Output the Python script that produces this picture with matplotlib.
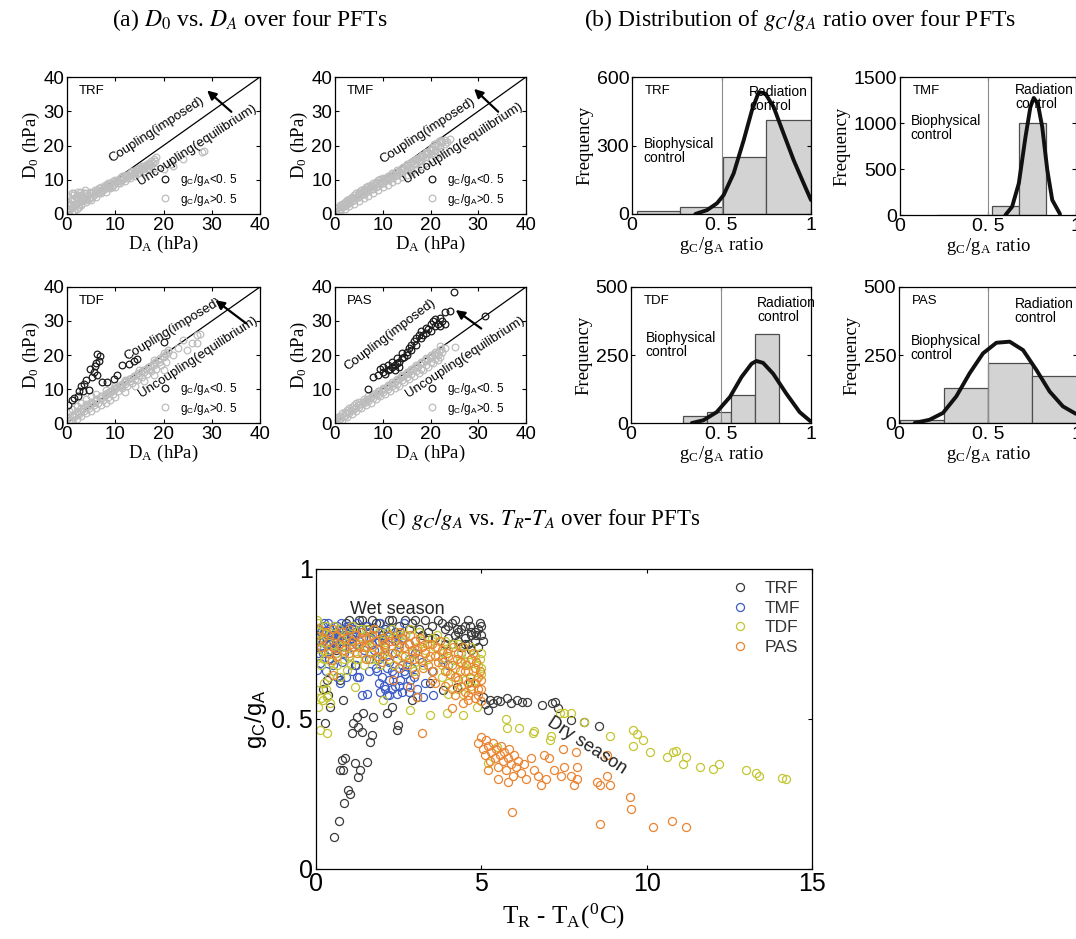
import matplotlib
matplotlib.use('Agg')
import numpy as np
import matplotlib.pyplot as plt

plt.rcParams['font.family'] = 'Liberation Sans'
plt.rcParams['mathtext.fontset'] = 'stix'
SERIF = 'Liberation Serif'

# ---------------- (a) D0 vs DA : (DA, D0) pairs
# hi = gC/gA > 0.5 (gray), lo = gC/gA < 0.5 (black)
trf_hi = [(0.2, 1.5), (0.5, 2.5), (0.8, 3.0), (1.0, 4.5), (1.2, 5.5), (1.5, 6.0), (1.8, 5.0), (2.0, 5.5),
          (2.3, 4.5), (2.6, 5.0), (3.0, 5.5), (3.3, 5.0), (3.6, 6.0), (4.0, 6.0), (4.3, 5.5), (4.7, 6.5),
          (5.0, 6.0), (5.4, 6.5), (5.8, 7.0), (6.2, 7.0), (6.6, 7.5), (7.0, 8.0), (7.4, 7.5), (7.8, 8.5),
          (8.2, 8.5), (8.6, 9.0), (9.0, 9.0), (9.5, 9.5), (10.0, 10.0), (10.5, 10.0), (11.0, 10.5),
          (11.5, 11.0), (12.0, 11.5), (12.5, 11.5), (13.0, 12.0), (13.5, 12.5), (14.0, 12.5), (14.5, 13.0),
          (15.0, 13.5), (15.5, 14.0), (16.0, 14.0), (16.5, 14.5), (17.0, 15.0), (17.5, 15.5), (18.0, 16.0),
          (1.0, 0.5), (1.5, 1.0), (2.0, 1.5), (2.5, 2.0), (3.0, 2.5), (4.0, 3.5), (5.0, 4.0), (6.0, 5.0),
          (7.0, 6.0), (8.0, 6.5), (9.0, 7.5), (10.0, 8.0), (11.0, 9.0), (12.0, 9.5), (13.0, 10.5),
          (14.0, 11.0), (15.0, 12.0), (16.0, 12.5), (17.0, 13.0), (18.0, 13.5), (0.5, 1.0), (1.5, 2.5),
          (2.5, 3.5), (3.5, 4.0), (4.5, 4.5), (5.5, 5.5), (6.5, 6.0), (7.5, 7.0), (8.5, 8.0), (9.5, 8.5),
          (10.5, 9.0), (11.5, 10.0), (12.5, 10.5), (13.5, 11.5), (14.5, 12.0), (15.5, 13.0), (16.5, 13.5),
          (17.5, 14.0), (20.0, 13.0), (21.5, 14.5), (22.0, 14.0), (24.0, 16.0), (28.0, 18.0), (28.3, 18.5),
          (1.0, 6.0), (2.2, 6.5), (0.3, 3.5),
          (0.3, 0.5), (0.7, 1.5), (1.3, 2.0), (1.8, 3.0), (2.2, 2.5), (2.8, 3.0), (3.2, 4.0), (3.8, 4.5),
          (4.2, 4.0), (4.8, 5.0), (5.2, 5.0), (5.8, 6.0), (6.3, 6.5), (6.8, 6.5), (7.3, 7.0), (7.8, 7.5),
          (8.3, 7.5), (8.8, 8.5), (9.3, 8.0), (9.8, 9.0), (10.3, 9.5), (10.8, 9.5), (11.3, 10.5), (11.8, 10.5),
          (12.3, 11.0), (12.8, 11.0), (13.3, 12.0), (13.8, 12.0), (14.3, 12.5), (14.8, 13.0), (15.3, 13.5),
          (15.8, 13.0), (16.3, 14.0), (16.8, 14.5), (17.3, 14.5), (17.8, 15.0), (18.2, 15.5), (0.8, 4.0),
          (1.5, 4.5), (2.8, 6.5), (3.8, 7.0), (18.5, 16.5)]
trf_lo = []

tmf_hi = [(0.5, 1.8), (1, 2.5), (1.5, 3), (2, 3.5), (2.5, 4), (3, 4.5), (3.5, 5), (4, 5.5), (4.5, 6), (5, 6.5),
          (5.5, 7), (6, 7.3), (6.5, 7.8), (7, 8.2), (7.5, 8.6), (8, 9), (8.5, 9.4), (9, 9.8), (9.5, 10.2),
          (10, 10.5), (11, 11.2), (12, 12), (13, 12.8), (14, 13.5), (15, 14.5), (16, 15.2), (17, 16), (18, 17),
          (19, 18), (20, 19), (21, 20), (22, 21), (23, 21.5), (24, 21.8),
          (0.3, 0.8), (1, 1.5), (2, 2.4), (3, 3.3), (4, 4.2), (5, 5), (6, 5.8), (7, 6.6), (8, 7.4), (9, 8.2),
          (10, 9), (11, 9.8), (12, 10.5), (13, 11.3), (14, 12), (15, 12.8), (16, 13.5), (17, 14.5), (18, 15.5),
          (19, 16.5), (20, 17.5), (21, 18.5), (22, 19.5), (23, 20.5),
          (1, 0.8), (2, 1.5), (3, 2.3), (4, 3), (5, 3.8), (6, 4.6), (7, 5.4), (8, 6.2), (9, 7), (10, 7.8),
          (11, 8.5), (12, 9.3), (13, 10), (14, 10.8), (15, 11.5), (16, 12.3), (17, 13), (18, 14), (19, 15),
          (20, 16), (21, 17), (22, 18.5),
          (1.5, 2.0), (2.5, 3.0), (3.5, 3.8), (4.5, 4.8), (5.5, 5.6), (6.5, 6.5), (7.5, 7.2), (8.5, 8.0),
          (9.5, 8.8), (10.5, 9.6), (11.5, 10.4), (12.5, 11.2), (13.5, 12.0), (14.5, 13.0), (15.5, 13.8),
          (16.5, 14.8), (17.5, 15.8), (18.5, 16.8), (19.5, 17.8), (20.5, 19.0), (21.5, 20.0), (22.5, 21.0),
          (0.8, 1.2), (1.3, 2.2), (1.8, 2.8), (2.3, 3.2), (2.8, 3.8), (3.3, 4.3), (3.8, 4.6), (4.3, 5.0),
          (4.8, 5.5), (5.3, 6.0), (5.8, 6.4), (6.3, 7.0), (6.8, 7.2), (7.3, 7.8), (7.8, 8.1), (8.3, 8.6),
          (8.8, 9.0), (9.3, 9.4), (9.8, 9.7), (10.3, 10.1), (10.8, 10.6), (11.3, 11.0), (11.8, 11.4),
          (12.3, 11.8), (12.8, 12.2), (13.3, 12.6), (13.8, 13.2), (14.3, 13.6), (14.8, 14.0), (15.3, 14.4),
          (15.8, 14.8), (16.3, 15.4), (16.8, 15.8), (17.3, 16.3), (17.8, 16.6), (18.3, 17.2), (18.8, 17.6),
          (19.3, 18.2), (19.8, 18.6), (20.3, 19.5), (20.8, 20.3), (21.3, 20.8), (21.8, 21.3), (22.3, 21.6),
          (23.5, 21.0)]
tmf_lo = []

tdf_hi = [(0.3, 1.5), (1, 2.5), (2, 3.5), (3, 4.5), (4, 5.5), (5, 6.3), (6, 7), (7, 7.8), (8, 8.5), (9, 9.3),
          (10, 10), (11, 10.8), (12, 11.5), (13, 12.3), (14, 13), (15, 14), (16, 15), (17, 16), (18, 17),
          (19, 18), (20, 19.5), (21, 21),
          (0.5, 0.8), (1.5, 1.8), (2.5, 2.6), (3.5, 3.5), (4.5, 4.3), (5.5, 5.2), (6.5, 6), (7.5, 6.8),
          (8.5, 7.7), (9.5, 8.5), (10.5, 9.3), (11.5, 10.2), (12.5, 11), (13.5, 11.8), (14.5, 12.7),
          (15.5, 13.5), (16.5, 14.3), (17.5, 15.2), (18.5, 16), (19.5, 17), (20.5, 18),
          (1, 0.5), (2, 1.2), (3, 2), (4, 2.8), (5, 3.6), (6, 4.4), (7, 5.2), (8, 6), (9, 6.8), (10, 7.6),
          (12, 9.2), (14, 10.8), (16, 12.4), (18, 14), (20, 15.5),
          (0.5, 3.5), (1, 4), (2, 5), (3, 6), (4, 7), (5, 8), (6, 8.5), (8, 9.8), (10, 11.2), (12, 12.7),
          (15, 15.5), (18, 18.5), (20, 20.5), (21, 21.5),
          (22, 20), (23, 22), (24, 24.5), (24.8, 21.5), (26, 23.5), (26.9, 23.4), (27, 26), (27.6, 26.3),
          (0.8, 1.0), (1.3, 2.0), (1.8, 2.5), (2.3, 3.0), (2.8, 3.5), (3.3, 4.2), (3.8, 4.6), (4.3, 5.0),
          (4.8, 5.6), (5.3, 6.0), (5.8, 6.5), (6.3, 7.0), (6.8, 7.4), (7.3, 8.0), (7.8, 8.3), (8.3, 8.8),
          (8.8, 9.2), (9.3, 9.8), (9.8, 10.2), (10.3, 10.6), (10.8, 11.0), (11.3, 11.5), (11.8, 12.0),
          (12.3, 12.4), (12.8, 12.8), (13.3, 13.3), (13.8, 13.8), (14.3, 14.2), (14.8, 14.7), (15.3, 15.1),
          (15.8, 15.5), (16.3, 16.0), (16.8, 16.4), (17.3, 16.8), (17.8, 17.3), (18.3, 17.8), (18.8, 18.5),
          (19.3, 19.0), (19.8, 19.6), (20.5, 20.4)]
tdf_lo = [(0.3, 5.4), (1, 6.8), (2.2, 8), (3.4, 9.3), (4.5, 9.8), (2.8, 11), (4, 12.5), (5.2, 13.5),
          (6.2, 14.1), (4.8, 15.9), (5.9, 16.9), (6.6, 18.3), (6.3, 20.3), (6.9, 19.8), (1.5, 7.5),
          (2.5, 9.5), (3.5, 11.5), (5.5, 15), (6, 17.5), (7.2, 12), (8.3, 12), (9.7, 13), (10.3, 14),
          (11.4, 17), (12.8, 17.4), (13.8, 18.3), (14.5, 18.8), (20, 23.9)]

pas_hi = [(0.3, 1.0), (0.6, 1.8), (1, 2.2), (1.5, 2.8), (2, 3.2), (2.5, 3.8), (3, 4.3), (3.5, 4.8), (4, 5.2),
          (4.5, 5.8), (5, 6.2), (6, 7.0), (7, 7.8), (8, 8.6), (9, 9.5), (10, 10.3), (11, 11.2), (12, 12.0),
          (13, 13.0), (14, 14.0), (15, 15.0), (16, 16.0), (17, 17.0), (18, 18.0), (19, 19.0), (20, 20.0),
          (21, 21.0), (22, 22.5), (23, 22.0),
          (1, 1.2), (2, 2.2), (3, 3.0), (4, 4.0), (5, 4.8), (6, 5.8), (7, 6.6), (8, 7.4), (9, 8.3), (10, 9.0),
          (11, 10.0), (12, 10.8), (13, 11.6), (14, 12.5), (15, 13.4), (16, 14.3), (17, 15.2), (18, 16.0),
          (19, 17.0), (20, 17.8), (21, 18.8), (22, 19.5),
          (1.5, 1.0), (2.5, 1.8), (3.5, 2.6), (4.5, 3.4), (5.5, 4.4), (6.5, 5.2), (7.5, 6.0), (8.5, 7.0),
          (9.5, 7.8), (10.5, 8.6), (11.5, 9.5), (12.5, 10.2), (13.5, 11.0), (14.5, 12.0), (15.5, 12.8),
          (16.5, 13.8), (17.5, 14.6), (18.5, 15.5), (19.5, 16.5), (20.5, 17.5), (21.5, 18.5),
          (25.2, 22.4), (22.5, 21.0), (21.5, 20.0),
          (0.8, 0.8), (1.3, 1.8), (1.8, 2.0), (2.3, 2.8), (2.8, 3.2), (3.3, 3.8), (3.8, 4.2), (4.3, 4.6),
          (4.8, 5.2), (5.3, 5.6), (5.8, 6.2), (6.3, 6.6), (6.8, 7.2), (7.3, 7.4), (7.8, 8.0), (8.3, 8.4),
          (8.8, 8.9), (9.3, 9.3), (9.8, 9.7), (10.3, 10.0), (10.8, 10.6), (11.3, 11.0), (11.8, 11.4),
          (12.3, 11.8), (12.8, 12.4), (13.3, 12.8), (13.8, 13.4), (14.3, 13.8), (14.8, 14.4), (15.3, 14.8),
          (15.8, 15.4), (16.3, 15.8), (16.8, 16.4), (17.3, 16.8), (17.8, 17.4), (18.3, 17.8), (18.8, 18.4),
          (19.3, 18.8), (19.8, 19.2), (20.3, 19.6), (20.8, 20.2), (21.3, 20.6), (21.8, 21.2), (22.3, 21.7)]
pas_lo = [(7, 10), (8, 13.5), (9, 14), (9.5, 16), (10, 16.5), (10, 15), (10.5, 14.5), (11, 15.5), (11, 17),
          (11.5, 16), (12, 16.5), (12, 18), (12.5, 17), (12.5, 15.5), (13, 17.5), (13, 19), (13.5, 18),
          (13.5, 16.5), (14, 19), (14, 20.5), (14.5, 19.5), (15, 21), (15, 20), (15.5, 22), (16, 21.5),
          (16, 23), (16.5, 24), (17, 25), (17, 23), (17.5, 26), (18, 25), (18, 27), (18.5, 26), (19, 28),
          (19, 26.5), (19.5, 27.5), (20, 29), (20, 27), (20.5, 30), (21, 28.5), (21, 30.5), (21.5, 29),
          (22, 31), (22, 28.5), (22.5, 30), (23, 32.5), (23, 29), (24, 33), (25, 38.5), (31.5, 31.5)]

# ---------------- (b) histograms of gC/gA
trf_edges = [0.03, 0.27, 0.51, 0.75, 1.0]
trf_counts = [12, 32, 250, 410]
trf_fit_x = [0.354, 0.419, 0.475, 0.512, 0.568, 0.624, 0.670, 0.708, 0.745, 0.791, 0.847, 0.903, 0.959, 1.0]
trf_fit_y = [0, 17, 47, 83, 178, 323, 454, 534, 527, 469, 352, 236, 134, 61]

tmf_edges = [0.21, 0.365, 0.52, 0.675, 0.83]
tmf_counts = [3, 0, 98, 1000]
tmf_fit_x = [0.599, 0.637, 0.675, 0.713, 0.741, 0.760, 0.783, 0.808, 0.837, 0.865, 0.909]
tmf_fit_y = [0, 90, 343, 849, 1175, 1272, 1211, 958, 488, 163, 11]

tdf_edges = [0.288, 0.421, 0.555, 0.688, 0.821]
tdf_counts = [25, 42, 104, 326]
tdf_fit_x = [0.338, 0.402, 0.476, 0.550, 0.614, 0.670, 0.697, 0.734, 0.790, 0.863, 0.937, 0.996]
tdf_fit_y = [0, 10, 40, 96, 169, 218, 228, 221, 181, 108, 40, 7]

pas_edges = [0.004, 0.25, 0.5, 0.749, 1.0]
pas_counts = [12, 128, 222, 174]
pas_fit_x = [0.088, 0.172, 0.247, 0.322, 0.397, 0.472, 0.547, 0.622, 0.697, 0.772, 0.846, 0.921, 0.993]
pas_fit_y = [0, 12, 37, 98, 183, 256, 295, 299, 268, 195, 116, 61, 34]

# ---------------- (c) gC/gA vs TR-TA : (TR-TA, gC/gA) pairs
c_trf = [(0.9, 0.82), (1.1, 0.80), (1.3, 0.83), (1.5, 0.81), (1.7, 0.83), (1.9, 0.82), (2.1, 0.80), (2.3, 0.83),
         (2.5, 0.81), (2.7, 0.83), (2.9, 0.82), (3.1, 0.80), (3.3, 0.83), (3.5, 0.81), (3.7, 0.83), (3.9, 0.80),
         (4.1, 0.82), (4.3, 0.79), (4.5, 0.81), (4.7, 0.78), (4.9, 0.80), (2.0, 0.78), (2.6, 0.77), (3.2, 0.78),
         (3.6, 0.77), (4.0, 0.77), (4.1, 0.75), (4.2, 0.78), (4.3, 0.76), (4.4, 0.74), (4.5, 0.77), (4.6, 0.75),
         (4.7, 0.79), (4.8, 0.76), (4.9, 0.74), (5.0, 0.78), (5.05, 0.76), (4.25, 0.80), (4.65, 0.81),
         (4.95, 0.82), (0.5, 0.78), (0.7, 0.80), (0.6, 0.73), (0.4, 0.70), (0.73, 0.63), (1.18, 0.68),
         (0.32, 0.63), (0.83, 0.563), (0.42, 0.541), (0.27, 0.486), (1.13, 0.486), (1.23, 0.508), (1.43, 0.519),
         (1.38, 0.458), (1.08, 0.452), (1.28, 0.474), (1.68, 0.447), (1.63, 0.424), (1.73, 0.508), (2.14, 0.519),
         (2.29, 0.541), (2.44, 0.463), (2.49, 0.48), (2.89, 0.563), (3.04, 0.574), (3.45, 0.619), (3.85, 0.597),
         (4.25, 0.608), (4.66, 0.624), (5.06, 0.574), (5.26, 0.563), (5.36, 0.552), (5.46, 0.563), (5.77, 0.569),
         (6.07, 0.563), (6.22, 0.558), (6.37, 0.558), (6.82, 0.547), (7.13, 0.552), (7.23, 0.557), (7.33, 0.537),
         (7.72, 0.497), (8.1, 0.49), (8.57, 0.476), (5.56, 0.56), (5.9, 0.555), (5.1, 0.55), (5.2, 0.53),
         (0.78, 0.363), (0.88, 0.369), (0.73, 0.33), (0.83, 0.33), (1.18, 0.352), (1.33, 0.33), (1.28, 0.308),
         (0.98, 0.263), (1.53, 0.358), (0.54, 0.107), (0.69, 0.16), (0.85, 0.22), (1.03, 0.25), (0.2, 0.6),
         (0.35, 0.58),
         (1.0, 0.83), (1.2, 0.79), (1.4, 0.83), (1.6, 0.80), (1.8, 0.82), (2.2, 0.83), (2.4, 0.79), (2.8, 0.80),
         (3.0, 0.83), (3.4, 0.79), (3.8, 0.82), (4.0, 0.81), (4.2, 0.83), (4.4, 0.80), (4.6, 0.83), (4.8, 0.79),
         (5.0, 0.81), (4.5, 0.75), (4.7, 0.73), (4.85, 0.78), (3.9, 0.75), (3.4, 0.77), (2.4, 0.76), (1.6, 0.77),
         (0.8, 0.76)]
c_tmf = [(0.05, 0.80), (0.1, 0.78), (0.1, 0.76), (0.15, 0.74), (0.2, 0.81), (0.25, 0.79), (0.3, 0.77),
         (0.3, 0.75), (0.35, 0.82), (0.4, 0.80), (0.45, 0.78), (0.5, 0.76), (0.5, 0.74), (0.55, 0.81),
         (0.6, 0.79), (0.65, 0.77), (0.7, 0.75), (0.75, 0.82), (0.8, 0.80), (0.85, 0.78), (0.9, 0.76),
         (0.95, 0.81), (1.0, 0.79), (1.05, 0.77), (1.1, 0.74), (1.15, 0.80), (1.2, 0.78), (1.3, 0.76),
         (1.4, 0.80), (1.5, 0.77), (1.6, 0.79), (1.7, 0.75), (1.8, 0.78), (1.9, 0.76), (2.0, 0.79), (2.1, 0.74),
         (2.3, 0.77), (2.5, 0.75), (2.7, 0.78), (3.0, 0.76), (0.2, 0.72), (0.4, 0.70), (0.6, 0.72), (0.8, 0.69),
         (1.0, 0.71), (1.2, 0.68), (1.4, 0.72), (1.6, 0.70), (1.8, 0.67), (2.0, 0.71), (2.2, 0.69), (2.4, 0.72),
         (2.6, 0.68), (2.8, 0.70), (3.0, 0.72), (3.2, 0.69), (1.85, 0.66), (1.9, 0.62), (1.95, 0.59), (2.0, 0.64),
         (2.1, 0.60), (2.15, 0.67), (2.2, 0.63), (2.3, 0.60), (2.35, 0.65), (2.4, 0.61), (2.5, 0.67), (2.55, 0.63),
         (2.6, 0.59), (2.7, 0.65), (2.75, 0.61), (2.85, 0.63), (2.9, 0.67), (2.2, 0.58), (2.45, 0.585),
         (0.62, 0.64), (1.23, 0.64), (0.73, 0.62), (1.53, 0.585), (1.38, 0.58), (2.14, 0.58), (3.25, 0.574),
         (3.55, 0.58), (0.02, 0.663), (0.12, 0.686), (3.5, 0.66), (3.8, 0.70), (4.0, 0.68), (4.4, 0.72),
         (3.3, 0.62),
         (0.0, 0.77), (0.0, 0.74), (0.05, 0.72), (0.15, 0.79), (0.2, 0.76), (0.25, 0.82), (0.35, 0.78),
         (0.4, 0.75), (0.45, 0.73), (0.55, 0.77), (0.6, 0.74), (0.65, 0.81), (0.7, 0.78), (0.8, 0.74),
         (0.85, 0.72), (0.9, 0.80), (1.0, 0.76), (1.1, 0.78), (1.2, 0.75), (1.25, 0.82), (1.35, 0.79),
         (1.45, 0.73), (1.55, 0.81), (1.65, 0.77), (1.75, 0.73), (1.95, 0.82), (2.05, 0.77), (2.25, 0.80),
         (2.45, 0.78), (2.65, 0.82), (2.8, 0.75), (1.9, 0.70), (2.3, 0.66), (2.65, 0.66), (2.95, 0.64),
         (3.05, 0.60), (2.05, 0.61), (2.5, 0.61), (2.8, 0.59), (1.6, 0.66), (1.3, 0.64), (1.1, 0.66),
         (0.9, 0.64), (0.5, 0.68), (0.3, 0.66)]
c_tdf = [(0.05, 0.82), (0.1, 0.79), (0.15, 0.76), (0.2, 0.73), (0.25, 0.70), (0.3, 0.81), (0.4, 0.78),
         (0.5, 0.75), (0.6, 0.72), (0.7, 0.80), (0.8, 0.77), (0.9, 0.74), (1.0, 0.71), (1.1, 0.81), (1.2, 0.78),
         (1.3, 0.75), (1.4, 0.72), (1.5, 0.80), (1.6, 0.77), (1.7, 0.74), (1.8, 0.70), (1.9, 0.79), (2.0, 0.76),
         (2.1, 0.73), (2.2, 0.70), (2.3, 0.80), (2.4, 0.77), (2.5, 0.74), (2.6, 0.71), (2.7, 0.78), (2.8, 0.75),
         (2.9, 0.72), (3.0, 0.69), (3.1, 0.79), (3.2, 0.76), (3.3, 0.73), (3.4, 0.70), (3.5, 0.77), (3.6, 0.74),
         (3.7, 0.71), (3.8, 0.68), (3.9, 0.76), (4.0, 0.73), (4.1, 0.70), (4.2, 0.67), (4.3, 0.75), (4.4, 0.72),
         (4.5, 0.69), (4.6, 0.66), (4.7, 0.74), (4.8, 0.71), (4.9, 0.68), (5.0, 0.65), (5.0, 0.72), (4.85, 0.63),
         (4.7, 0.61), (4.5, 0.63), (4.3, 0.60), (4.0, 0.62), (3.8, 0.64), (0.04, 0.83),
         (0.07, 0.597), (0.32, 0.574), (0.42, 0.552), (0.07, 0.541), (0.22, 0.563), (0.12, 0.463), (0.32, 0.452),
         (0.73, 0.64), (0.93, 0.663), (1.18, 0.608), (2.04, 0.563), (2.84, 0.53), (3.45, 0.513), (3.95, 0.519),
         (4.45, 0.513), (4.86, 0.541), (4.0, 0.585), (4.45, 0.585), (5.21, 0.352), (5.46, 0.408), (5.77, 0.469),
         (6.57, 0.452), (7.07, 0.43), (5.74, 0.5), (6.15, 0.47), (6.6, 0.46), (7.1, 0.445), (7.38, 0.519),
         (7.5, 0.52), (7.7, 0.52), (8.1, 0.49), (8.9, 0.445), (9.6, 0.465), (9.7, 0.45), (9.9, 0.43), (9.6, 0.41),
         (10.1, 0.39), (10.6, 0.375), (10.8, 0.39), (10.9, 0.395), (11.2, 0.375), (11.1, 0.35), (11.6, 0.34),
         (12.0, 0.335), (12.2, 0.35), (13.0, 0.33), (13.3, 0.32), (13.4, 0.31), (14.1, 0.305), (14.2, 0.3),
         (0.05, 0.76), (0.1, 0.71), (0.15, 0.68), (0.2, 0.79), (0.35, 0.73), (0.45, 0.69), (0.55, 0.81),
         (0.65, 0.68), (0.75, 0.74), (0.85, 0.70), (0.95, 0.78), (1.05, 0.68), (1.15, 0.74), (1.25, 0.70),
         (1.35, 0.80), (1.45, 0.68), (1.55, 0.74), (1.65, 0.70), (1.75, 0.80), (1.95, 0.68), (2.05, 0.72),
         (2.15, 0.79), (2.35, 0.68), (2.45, 0.73), (2.55, 0.78), (2.75, 0.69), (2.85, 0.80), (2.95, 0.66),
         (3.05, 0.74), (3.25, 0.68), (3.45, 0.75), (3.55, 0.66), (3.65, 0.78), (3.85, 0.72), (3.95, 0.66),
         (4.15, 0.75), (4.25, 0.64), (4.35, 0.69), (4.55, 0.72), (4.65, 0.69), (4.75, 0.66), (4.95, 0.70),
         (5.0, 0.67), (0.25, 0.62), (0.3, 0.60), (0.15, 0.57), (0.5, 0.66), (0.4, 0.64)]
c_pas = [(0.1, 0.80), (0.2, 0.77), (0.3, 0.79), (0.4, 0.76), (0.5, 0.80), (0.6, 0.78), (0.7, 0.75), (0.8, 0.79),
         (0.9, 0.77), (1.0, 0.80), (1.1, 0.76), (1.2, 0.78), (1.3, 0.74), (1.4, 0.79), (1.5, 0.77), (1.6, 0.75),
         (1.7, 0.78), (1.8, 0.76), (1.9, 0.73), (2.0, 0.77), (2.1, 0.75), (2.2, 0.78), (2.3, 0.72), (2.4, 0.76),
         (2.5, 0.74), (2.6, 0.77), (2.7, 0.71), (2.8, 0.75), (2.9, 0.73), (3.0, 0.76), (3.1, 0.70), (3.2, 0.74),
         (3.3, 0.72), (3.4, 0.68), (3.5, 0.75), (3.6, 0.71), (3.7, 0.69), (3.8, 0.73), (3.9, 0.66), (4.0, 0.71),
         (4.1, 0.68), (4.2, 0.64), (4.3, 0.72), (4.4, 0.69), (4.5, 0.66), (4.6, 0.62), (4.7, 0.70), (4.8, 0.67),
         (4.9, 0.64), (5.0, 0.60), (4.4, 0.61), (4.6, 0.58), (4.8, 0.57), (5.0, 0.56), (4.2, 0.58), (4.9, 0.60),
         (1.0, 0.72), (1.5, 0.70), (2.0, 0.69), (2.5, 0.67), (3.0, 0.65), (3.5, 0.63),
         (0.47, 0.697), (0.52, 0.647), (2.34, 0.63), (2.84, 0.608), (3.04, 0.574), (3.2, 0.452), (4.1, 0.536),
         (4.45, 0.552), (4.9, 0.42), (5.0, 0.44), (5.05, 0.40), (5.1, 0.38), (5.15, 0.43), (5.2, 0.41),
         (5.25, 0.36), (5.3, 0.39), (5.35, 0.42), (5.4, 0.37), (5.45, 0.40), (5.5, 0.34), (5.55, 0.38),
         (5.6, 0.41), (5.65, 0.36), (5.7, 0.39), (5.75, 0.33), (5.8, 0.37), (5.85, 0.40), (5.9, 0.35),
         (5.95, 0.31), (6.0, 0.38), (6.05, 0.34), (6.1, 0.36), (6.2, 0.32), (6.3, 0.35), (6.35, 0.30),
         (5.2, 0.33), (5.5, 0.30), (5.8, 0.29), (6.5, 0.37), (6.6, 0.33), (6.7, 0.31), (7.48, 0.40), (7.87, 0.39),
         (6.9, 0.38), (7.06, 0.37), (7.2, 0.33), (6.96, 0.30), (6.8, 0.28), (7.4, 0.31), (7.5, 0.34), (7.7, 0.31),
         (7.9, 0.34), (7.9, 0.30), (7.8, 0.28), (8.5, 0.29), (8.8, 0.31), (8.9, 0.28), (8.6, 0.28), (8.8, 0.38),
         (9.5, 0.24), (5.92, 0.19), (8.6, 0.15), (9.52, 0.20), (10.2, 0.14), (10.77, 0.16), (11.2, 0.14),
         (0.15, 0.74), (0.35, 0.72), (0.55, 0.74), (0.65, 0.71), (0.85, 0.73), (1.05, 0.75), (1.25, 0.72),
         (1.35, 0.77), (1.45, 0.74), (1.65, 0.72), (1.75, 0.80), (1.85, 0.71), (2.05, 0.74), (2.15, 0.71),
         (2.25, 0.76), (2.45, 0.70), (2.55, 0.79), (2.65, 0.74), (2.75, 0.68), (2.85, 0.78), (2.95, 0.70),
         (3.05, 0.73), (3.15, 0.77), (3.25, 0.67), (3.35, 0.75), (3.45, 0.71), (3.55, 0.66), (3.65, 0.74),
         (3.75, 0.76), (3.85, 0.69), (3.95, 0.72), (4.05, 0.65), (4.15, 0.74), (4.25, 0.70), (4.35, 0.66),
         (4.45, 0.74), (4.55, 0.68), (4.65, 0.64), (4.75, 0.72), (4.85, 0.69), (4.95, 0.66), (5.0, 0.63),
         (3.6, 0.62), (3.9, 0.61), (4.1, 0.60), (4.3, 0.63), (4.5, 0.59), (4.7, 0.60), (4.9, 0.58), (4.8, 0.62),
         (4.6, 0.565)]

W, H = 1076, 939


def px_axes(fig, left, top, right, bottom):
    return fig.add_axes([left / W, 1 - bottom / H, (right - left) / W, (bottom - top) / H])


def style_ticks(ax, size):
    ax.tick_params(direction='in', top=True, right=True, length=3, width=0.8, labelsize=size, pad=2)
    for s in ax.spines.values():
        s.set_linewidth(0.9)


def draw_d(ax, name, hi, lo, arrow, t_coup, t_unc, rot_c=33):
    hx, hy = zip(*hi)
    ax.plot([0, 40], [0, 40], color='k', lw=0.9)
    h_hi, = ax.plot(hx, hy, 'o', mfc='none', mec='#bdbdbd', ms=4.8, mew=0.9, zorder=2)
    lx, ly = zip(*lo) if lo else ([], [])
    h_lo, = ax.plot(lx, ly, 'o', mfc='none', mec='#1a1a1a', ms=4.8, mew=0.9, zorder=3)
    ax.set_xlim(0, 40)
    ax.set_ylim(0, 40)
    ax.set_xticks([0, 10, 20, 30, 40])
    ax.set_yticks([0, 10, 20, 30, 40])
    style_ticks(ax, 13.5)
    ax.set_xlabel('D$_\\mathregular{A}$ (hPa)', family=SERIF, fontsize=13.5, labelpad=0)
    ax.set_ylabel('D$_\\mathregular{0}$ (hPa)', family=SERIF, fontsize=13.5, labelpad=1)
    ax.text(0.06, 0.9, name, transform=ax.transAxes, fontsize=9.5, va='center')
    ax.text(t_coup[0], t_coup[1], 'Coupling(imposed)', rotation=rot_c, fontsize=9.5,
            ha='center', va='center', rotation_mode='anchor')
    ax.text(t_unc[0], t_unc[1], 'Uncoupling(equilibrium)', rotation=33, fontsize=9.5,
            ha='center', va='center', rotation_mode='anchor')
    ax.annotate('', xy=arrow[0], xytext=arrow[1],
                arrowprops=dict(arrowstyle='-|>', lw=1.6, color='k', mutation_scale=13))
    ax.legend([h_lo, h_hi], ['g$_\\mathregular{C}$/g$_\\mathregular{A}$<0. 5',
                             'g$_\\mathregular{C}$/g$_\\mathregular{A}$>0. 5'],
              loc='lower left', bbox_to_anchor=(0.47, 0.03), frameon=False, fontsize=8.5,
              handlelength=0.8, handletextpad=0.9, labelspacing=0.3, borderaxespad=0, borderpad=0.2)


def draw_hist(ax, name, edges, counts, fx, fy, ymax, yt, bio, rad):
    e = np.array(edges)
    ax.bar(e[:-1], counts, width=np.diff(e), align='edge', color='#d3d3d3', edgecolor='#4d4d4d', lw=0.9)
    ax.axvline(0.5, color='#8c8c8c', lw=0.8)
    ax.plot(fx, fy, color='#111111', lw=2.8, solid_capstyle='round', solid_joinstyle='round')
    ax.set_xlim(0, 1)
    ax.set_ylim(0, ymax)
    ax.set_xticks([0, 0.5, 1], ['0', '0. 5', '1'])
    ax.set_yticks(yt)
    style_ticks(ax, 14)
    ax.set_xlabel('g$_\\mathregular{C}$/g$_\\mathregular{A}$ ratio', family=SERIF, fontsize=13.5, labelpad=1)
    ax.set_ylabel('Frequency', family=SERIF, fontsize=13.5, labelpad=2)
    ax.text(0.07, 0.9, name, transform=ax.transAxes, fontsize=9.5, va='center')
    ax.text(bio[0], bio[1], 'Biophysical\ncontrol', transform=ax.transAxes, fontsize=10, va='top',
            linespacing=1.0)
    ax.text(rad[0], rad[1], 'Radiation\ncontrol', transform=ax.transAxes, fontsize=10, va='top',
            linespacing=1.0)


fig = plt.figure(figsize=(W / 100, H / 100), dpi=100)

a1 = px_axes(fig, 67, 77, 260, 214)
draw_d(a1, 'TRF', trf_hi, trf_lo, ((28.6, 36.6), (34.5, 29.3)), (18.6, 24.5), (26.9, 20.1))
a2 = px_axes(fig, 335, 77, 526, 214)
draw_d(a2, 'TMF', tmf_hi, tmf_lo, ((28.7, 37.1), (34.6, 29.3)), (19.4, 24.3), (26.9, 20.6))
a3 = px_axes(fig, 67, 287, 260, 423)
draw_d(a3, 'TDF', tdf_hi, tdf_lo, ((30.3, 36.6), (37.6, 28.8)), (21.9, 27.5), (27.2, 19.5), rot_c=31)
a4 = px_axes(fig, 335, 287, 526, 423)
draw_d(a4, 'PAS', pas_hi, pas_lo, ((24.8, 33.7), (31.1, 27.3)), (11.5, 25.8), (27.3, 19.4), rot_c=37)

b1 = px_axes(fig, 632, 77, 811, 214)
draw_hist(b1, 'TRF', trf_edges, trf_counts, trf_fit_x, trf_fit_y, 600, [0, 300, 600],
          (0.065, 0.56), (0.655, 0.94))
b2 = px_axes(fig, 900, 77, 1076, 215)
draw_hist(b2, 'TMF', tmf_edges, tmf_counts, tmf_fit_x, tmf_fit_y, 1500, [0, 500, 1000, 1500],
          (0.06, 0.73), (0.655, 0.955))
b3 = px_axes(fig, 631, 287, 811, 423)
draw_hist(b3, 'TDF', tdf_edges, tdf_counts, tdf_fit_x, tdf_fit_y, 500, [0, 250, 500],
          (0.08, 0.68), (0.70, 0.935))
b4 = px_axes(fig, 899, 287, 1077, 423)
draw_hist(b4, 'PAS', pas_edges, pas_counts, pas_fit_x, pas_fit_y, 500, [0, 250, 500],
          (0.065, 0.655), (0.65, 0.925))

c = px_axes(fig, 316, 569, 812, 869)
for pts, col, lab in [(c_trf, '#3a3a3a', 'TRF'), (c_tmf, '#3d5cc6', 'TMF'),
                      (c_tdf, '#c3c632', 'TDF'), (c_pas, '#ea8431', 'PAS')]:
    x, y = zip(*pts)
    c.plot(x, y, 'o', mfc='none', mec=col, ms=5.8, mew=0.9, label=lab)
c.set_xlim(0, 15)
c.set_ylim(0, 1)
c.set_xticks([0, 5, 10, 15])
c.set_yticks([0, 0.5, 1], ['0', '0. 5', '1'])
style_ticks(c, 18)
c.set_xlabel('T$_\\mathregular{R}$ - T$_\\mathregular{A}$($^\\mathregular{0}$C)', family=SERIF,
             fontsize=18, labelpad=4)
c.set_ylabel('g$_\\mathregular{C}$/g$_\\mathregular{A}$', fontsize=17, labelpad=2)
c.text(1.03, 0.865, 'Wet season', fontsize=13, va='center', color='#222222')
c.text(8.2, 0.41, 'Dry season', fontsize=13, rotation=-33, ha='center', va='center',
       rotation_mode='anchor', color='#222222')
c.legend(loc='upper right', bbox_to_anchor=(1.0, 1.0), frameon=False, fontsize=12.5,
         handlelength=1.0, handletextpad=0.9, labelspacing=0.25, borderaxespad=0.3, labelcolor='#333333')

fig.text(250 / W, 1 - 20 / H, r'(a) $\mathit{D_0}$ vs. $\mathit{D_A}$ over four PFTs', family=SERIF,
         fontsize=17, ha='center', va='center')
fig.text(800 / W, 1 - 20 / H, r'(b) Distribution of $\mathit{g_C/g_A}$ ratio over four PFTs', family=SERIF,
         fontsize=17, ha='center', va='center')
fig.text(540 / W, 1 - 519 / H, r'(c) $\mathit{g_C/g_A}$ vs. $\mathit{T_R}$-$\mathit{T_A}$ over four PFTs',
         family=SERIF, fontsize=16.5, ha='center', va='center')

fig.savefig('out.png', dpi=100)
